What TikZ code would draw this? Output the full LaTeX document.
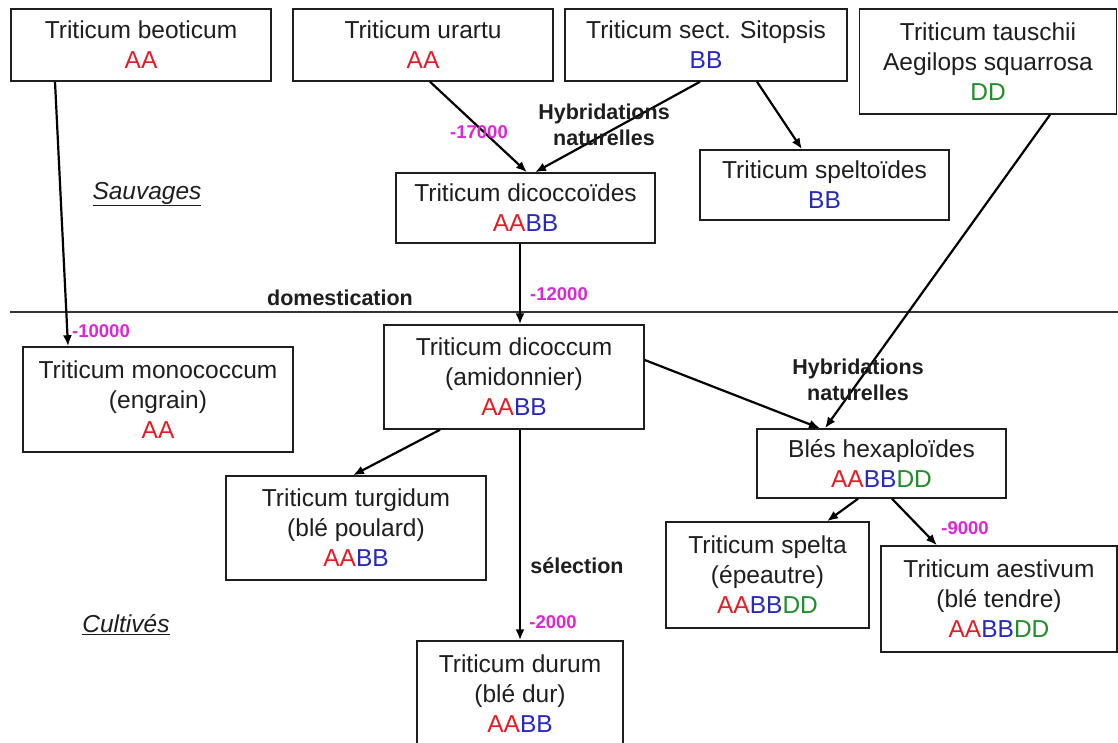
\documentclass[tikz,border=0pt]{standalone}
\usepackage{fontspec}
\setmainfont{Liberation Sans}
\usetikzlibrary{arrows.meta}
\definecolor{gA}{RGB}{225,30,40}
\definecolor{gB}{RGB}{40,40,190}
\definecolor{gD}{RGB}{35,140,45}
\definecolor{mag}{RGB}{220,40,210}
\definecolor{ink}{RGB}{30,30,30}
\newcommand{\gAA}{\textcolor{gA}{AA}}
\newcommand{\gBB}{\textcolor{gB}{BB}}
\newcommand{\gDD}{\textcolor{gD}{DD}}
\tikzset{
  wbox/.style={draw=ink, line width=1.5pt, inner sep=0pt, align=center, text=ink,
    font=\fontsize{24.5}{30}\selectfont},
  arr/.style={draw=black, line width=2.2pt, -{Latex[length=11pt,width=9pt]}},
  lbl/.style={inner sep=0pt, align=center, text=ink, font=\fontsize{21.5}{26}\selectfont\bfseries},
  dat/.style={inner sep=0pt, text=mag, font=\fontsize{18.5}{22}\selectfont\bfseries},
  zone/.style={inner sep=0pt, text=ink, font=\fontsize{24.5}{30}\selectfont\itshape}
}
\begin{document}
\begin{tikzpicture}[x=1pt,y=-1pt]
\useasboundingbox (0,0) rectangle (1118,742);
\fill[white] (0,0) rectangle (1118,742);

% boxes
\node[wbox, minimum width=260pt, minimum height=72pt] (beo) at (141,45) {Triticum beoticum\\\gAA};
\node[wbox, minimum width=260pt, minimum height=72pt] (ura) at (423,45) {Triticum urartu\\\gAA};
\node[wbox, minimum width=282pt, minimum height=72pt] (sit) at (706,45) {Triticum sect. Sitopsis\\\gBB};
\node[wbox, minimum width=257pt, minimum height=105pt] (tau) at (988,61.5) {Triticum tauschii\\Aegilops squarrosa\\\gDD};
\node[wbox, minimum width=249pt, minimum height=70pt] (spt) at (824.5,185) {Triticum speltoïdes\\\gBB};
\node[wbox, minimum width=259pt, minimum height=70pt] (dcd) at (525.5,208) {Triticum dicoccoïdes\\\gAA\gBB};
\node[wbox, minimum width=270pt, minimum height=105pt] (mono) at (158,399.5) {Triticum monococcum\\(engrain)\\\gAA};
\node[wbox, minimum width=260pt, minimum height=104pt] (dcm) at (514,377) {Triticum dicoccum\\(amidonnier)\\\gAA\gBB};
\node[wbox, minimum width=249pt, minimum height=69pt] (hex) at (881.5,463.5) {Blés hexaploïdes\\\gAA\gBB\gDD};
\node[wbox, minimum width=260pt, minimum height=104pt] (tur) at (356,528) {Triticum turgidum\\(blé poulard)\\\gAA\gBB};
\node[wbox, minimum width=203pt, minimum height=106pt] (spl) at (767.5,575) {Triticum spelta\\(épeautre)\\\gAA\gBB\gDD};
\node[wbox, minimum width=236pt, minimum height=106pt] (aes) at (999,599) {Triticum aestivum\\(blé tendre)\\\gAA\gBB\gDD};
\node[wbox, minimum width=206pt, minimum height=106pt] (dur) at (520,694) {Triticum durum\\(blé dur)\\\gAA\gBB};

% domestication line
\coordinate (dl) at (10,312);
\coordinate (dr) at (1118,312);
\draw[line width=2.4pt, draw=black!80] (dl) -- (dr);

% connectors
\draw[arr] (beo.south -| 55,0) -- (mono.north -| 68,0);
\draw[arr] (ura.south -| 430,0) -- (dcd.north -| 527,0);
\draw[arr] (sit.south -| 700,0) -- (dcd.north -| 535,0);
\draw[arr] (sit.south -| 757,0) -- (spt.north -| 802,0);
\draw[arr] (dcd.south -| 520,0) -- (dcm.north -| 520,0);
\draw[arr] (tau.south -| 1050,0) -- (hex.north -| 825,0);
\draw[arr] (dcm.east |- 0,360) -- (hex.north -| 820,0);
\draw[arr] (dcm.south -| 440,0) -- (tur.north -| 353,0);
\draw[arr] (dcm.south -| 520,0) -- (dur.north -| 520,0);
\draw[arr] (hex.south -| 858,0) -- (spl.north -| 827,0);
\draw[arr] (hex.south -| 892,0) -- (aes.north -| 937,0);

% labels
\node[dat] (d17) at (479,132) {-17000};
\node[lbl] (hyb1) at (604,124.5) {Hybridations\\naturelles};
\node[dat] (d10) at (101,331) {-10000};
\node[lbl] (dom) at (340,298) {domestication};
\node[dat] (d12) at (559,294) {-12000};
\node[lbl] (hyb2) at (858,380) {Hybridations\\naturelles};
\node[dat] (d9) at (965,528) {-9000};
\node[lbl] (sel) at (577,566) {sélection};
\node[dat] (d2) at (553,622) {-2000};
\node[zone] (sauv) at (147,194) {\underline{Sauvages}};
\node[zone] (cult) at (126,625) {\underline{Cultivés}};
\end{tikzpicture}
\end{document}
